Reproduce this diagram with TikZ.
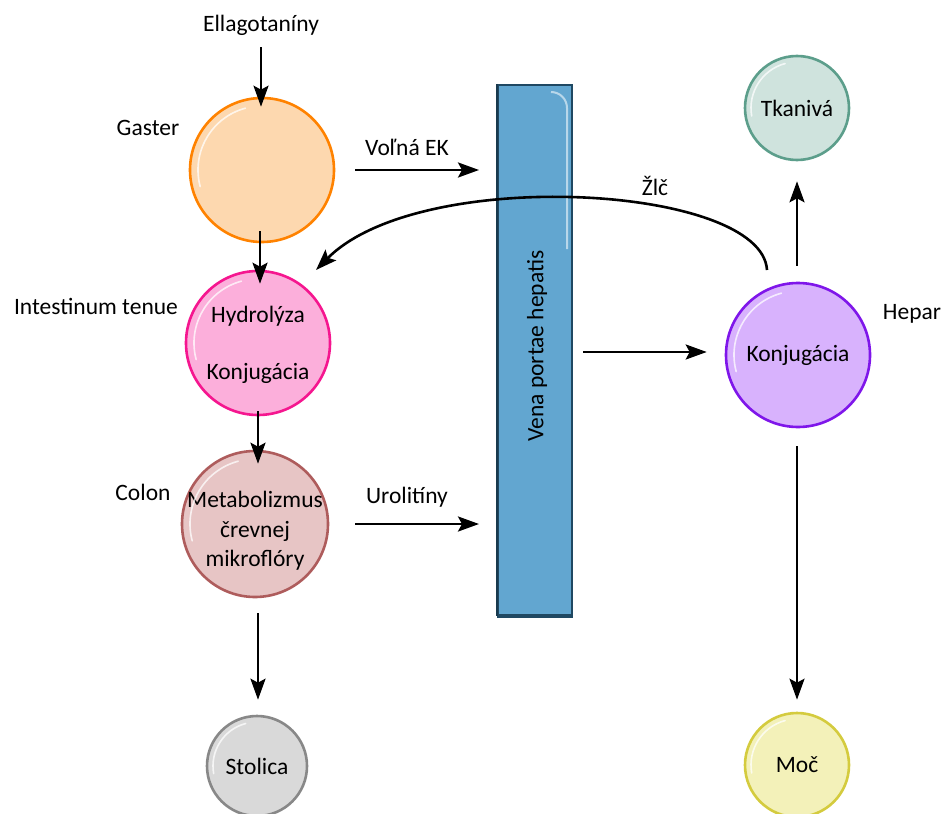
\documentclass[tikz,border=0pt]{standalone}
\usepackage{fontspec}
\setmainfont{Carlito}
\usetikzlibrary{arrows.meta,calc}
\definecolor{gasF}{HTML}{FDD8AF}\definecolor{gasD}{HTML}{FF8200}
\definecolor{hydF}{HTML}{FCAFDB}\definecolor{hydD}{HTML}{F5168F}
\definecolor{colF}{HTML}{E7C5C5}\definecolor{colD}{HTML}{AE5C5C}
\definecolor{stoF}{HTML}{D9D9D9}\definecolor{stoD}{HTML}{888888}
\definecolor{hepF}{HTML}{D8B2FD}\definecolor{hepD}{HTML}{7F16EA}
\definecolor{tkaF}{HTML}{CFE3DD}\definecolor{tkaD}{HTML}{5C9E8B}
\definecolor{mocF}{HTML}{F3F1B9}\definecolor{mocD}{HTML}{D4CB3E}
\definecolor{venF}{HTML}{62A6D0}\definecolor{venD}{HTML}{1F4862}
\begin{document}
\begin{tikzpicture}[x=1pt,y=1pt,
  txt/.style={font=\fontsize{23.5}{28}\selectfont, inner sep=0pt},
  ball/.style={circle, line width=2.6pt, inner sep=0pt, align=center,
    font=\fontsize{23.5}{29}\selectfont},
  arr/.style={line width=2.6pt, -{Stealth[length=21pt,width=15pt,inset=4pt]}},
  gloss/.style={white, line width=1.6pt, opacity=0.75, line cap=round}]
\useasboundingbox (0,0) rectangle (944,-813);

% vena portae
\node[rectangle, fill=venF, draw=venD, line width=2pt, minimum width=74pt,
  minimum height=530pt, inner sep=0pt] (vena) at (535,-350) {};
\draw[venD, line width=3pt] (vena.south west) -- (vena.south east);
\draw[venD!80!black, line width=2.2pt] (vena.north west) -- (vena.south west);
\draw[white!55!venF, line width=2pt] ([xshift=-22pt,yshift=-8pt]vena.north east)
  to[out=0,in=90] ([xshift=-6pt,yshift=-24pt]vena.north east) -- ([xshift=-6pt,yshift=-165pt]vena.north east);
\node[txt, rotate=90] (venaT) at (537,-346) {Vena portae hepatis};

% circles
\node[ball, fill=gasF, draw=gasD, minimum size=144pt] (gaster) at (262,-170) {};
\node[ball, fill=hydF, draw=hydD, minimum size=144pt] (hyd) at (258,-343) {};
\node[txt] (hydT1) at (258,-316) {Hydrolýza};
\node[txt] (hydT2) at (258,-373) {Konjugácia};
\node[ball, fill=colF, draw=colD, minimum size=146pt] (colon) at (255,-524) {};
\node[txt, align=center, font=\fontsize{23.5}{29.5}\selectfont] (colT) at (255,-531)
  {Metabolizmus\\črevnej\\mikroflóry};
\node[ball, fill=stoF, draw=stoD, minimum size=100pt] (stol) at (257,-766) {Stolica};
\node[ball, fill=hepF, draw=hepD, minimum size=144pt] (hepar) at (798,-355) {Konjugácia};
\node[ball, fill=tkaF, draw=tkaD, minimum size=104pt] (tkan) at (797,-108) {Tkanivá};
\node[ball, fill=mocF, draw=mocD, minimum size=104pt] (moc) at (797,-765) {Moč};

% gloss highlights
\foreach \n/\r in {gaster/64, hyd/64, colon/65, hepar/64}{
  \draw[gloss] ($(\n.center)+(105:\r pt)$) arc[start angle=105, end angle=195, radius=\r pt];
}
\foreach \n/\r in {stol/44, tkan/46, moc/46}{
  \draw[gloss] ($(\n.center)+(105:\r pt)$) arc[start angle=105, end angle=190, radius=\r pt];
}

% labels
\node[txt] (ella) at (261,-25) {Ellagotaníny};
\node[txt] (gasL) at (148,-128) {Gaster};
\node[txt] (intL) at (96,-306) {Intestinum tenue};
\node[txt] (colL) at (143,-492) {Colon};
\node[txt] (hepL) at (912,-314) {Hepar};
\node[txt] (ekL) at (407,-147) {Voľná EK};
\node[txt] (uroL) at (407,-497) {Urolitíny};
\node[txt] (zlcL) at (655,-186) {Žlč};

% arrows
\draw[arr] ([yshift=-12pt]ella.south) -- ($(ella.south |- gaster.north)+(0,-10pt)$);
\draw[arr] ([xshift=-2pt,yshift=12pt]gaster.south) -- ($(gaster.south |- hyd.north)+(-2pt,-14pt)$);
\draw[arr] ([yshift=5pt]hyd.south) -- ($(hyd.south |- colon.north)+(0,-14pt)$);
\draw[arr] ([xshift=3pt,yshift=-15pt]colon.south) -- ($(colon.south |- stol.north)+(3pt,15pt)$);
\draw[arr] ([xshift=20pt]gaster.east) -- ([xshift=-18pt]vena.west |- gaster.east);
\draw[arr] ([xshift=26pt]colon.east) -- ([xshift=-18pt]vena.west |- colon.east);
\draw[arr] ([xshift=10pt]vena.east |- hepar.west) ++(0,3pt) -- ([xshift=-18pt,yshift=3pt]hepar.west);
\draw[arr] ([xshift=-1pt,yshift=16pt]hepar.north) -- ($(hepar.north |- tkan.south)+(-1pt,-20pt)$);
\draw[arr] ([xshift=-1pt,yshift=-18pt]hepar.south) -- ($(hepar.south |- moc.north)+(-1pt,12pt)$);
\draw[arr] ($(hepar.center)+(-31pt,85pt)$) .. controls (762,-185) and (420,-165) .. ($(hyd.center)+(58pt,73pt)$);
\end{tikzpicture}
\end{document}
